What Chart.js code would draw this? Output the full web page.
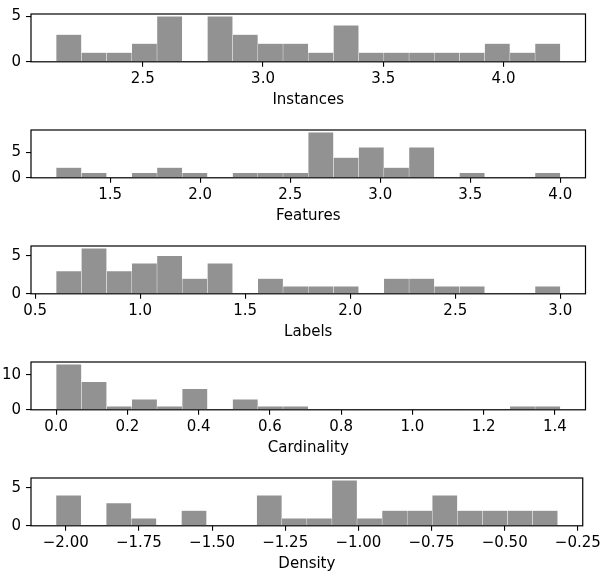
<!DOCTYPE html>
<html>
<head>
<meta charset="utf-8">
<script src="https://cdn.jsdelivr.net/npm/chart.js@4/dist/chart.umd.min.js"></script>
<style>
    html, body { margin: 0; padding: 0; background: #ffffff; }
    body { width: 604px; height: 576px; position: relative; overflow: hidden; }
    .panel { position: absolute; left: 0; width: 604px; height: 112px; }
</style>
</head>
<body>
<div class="panel" style="top: 0px;"><canvas id="chartInstances"></canvas></div>
<div class="panel" style="top: 116.1px;"><canvas id="chartFeatures"></canvas></div>
<div class="panel" style="top: 232.2px;"><canvas id="chartLabels"></canvas></div>
<div class="panel" style="top: 348.3px;"><canvas id="chartCardinality"></canvas></div>
<div class="panel" style="top: 464.4px;"><canvas id="chartDensity"></canvas></div>
<script>
// --- DATA (20 bins per histogram, counts) ---
const instancesRange = [2.14, 4.236];
const instancesCounts = [3, 1, 1, 2, 5, 0, 5, 3, 2, 2, 1, 4, 1, 1, 1, 1, 1, 2, 1, 2];
const instancesTicks = [2.5, 3.0, 3.5, 4.0];
const instancesTickLabels = ['2.5', '3.0', '3.5', '4.0'];

const featuresRange = [1.2, 4.0];
const featuresCounts = [2, 1, 0, 1, 2, 1, 0, 1, 1, 1, 9, 4, 6, 2, 6, 0, 1, 0, 0, 1];
const featuresTicks = [1.5, 2.0, 2.5, 3.0, 3.5, 4.0];
const featuresTickLabels = ['1.5', '2.0', '2.5', '3.0', '3.5', '4.0'];

const labelsRange = [0.6, 3.0];
const labelsCounts = [3, 6, 3, 4, 5, 2, 4, 0, 2, 1, 1, 1, 0, 2, 2, 1, 1, 0, 0, 1];
const labelsTicks = [0.5, 1.0, 1.5, 2.0, 2.5, 3.0];
const labelsTickLabels = ['0.5', '1.0', '1.5', '2.0', '2.5', '3.0'];

const cardinalityRange = [0.0, 1.415];
const cardinalityCounts = [13, 8, 1, 3, 1, 6, 0, 3, 1, 1, 0, 0, 0, 0, 0, 0, 0, 0, 1, 1];
const cardinalityTicks = [0.0, 0.2, 0.4, 0.6, 0.8, 1.0, 1.2, 1.4];
const cardinalityTickLabels = ['0.0', '0.2', '0.4', '0.6', '0.8', '1.0', '1.2', '1.4'];

const densityRange = [-2.033, -0.319];
const densityCounts = [4, 0, 3, 1, 0, 2, 0, 0, 4, 1, 1, 6, 1, 2, 2, 4, 2, 2, 2, 2];
const densityTicks = [-2.0, -1.75, -1.5, -1.25, -1.0, -0.75, -0.5, -0.25];
const densityTickLabels = ['\u22122.00', '\u22121.75', '\u22121.50', '\u22121.25', '\u22121.00', '\u22120.75', '\u22120.50', '\u22120.25'];

const countTicksSmall = [0, 5];
const countTicksLarge = [0, 10];

document.addEventListener('DOMContentLoaded', function () {
    const FONT = { family: "'DejaVu Sans', sans-serif", size: 15 };
    const BAR_COLOR = '#929292';
    const EDGE_COLOR = 'rgba(255, 255, 255, 0.5)';

    // box around the plot area (matplotlib spines)
    const spinesPlugin = {
        id: 'spines',
        afterDatasetsDraw(chart) {
            const { ctx, chartArea: a } = chart;
            ctx.save();
            ctx.strokeStyle = '#000000';
            ctx.lineWidth = 1.2;
            ctx.strokeRect(a.left, a.top, a.right - a.left, a.bottom - a.top);
            ctx.restore();
        }
    };

    function makeHistogram(canvasId, title, range, counts, xTicks, xTickLabels, yTicks) {
        const [lo, hi] = range;
        const nBins = counts.length;
        const width = (hi - lo) / nBins;
        const points = counts.map((c, i) => ({ x: lo + width * (i + 0.5), y: c }));
        const margin = (hi - lo) * 0.05;
        const yMax = Math.max(...counts) * 1.05;

        new Chart(document.getElementById(canvasId), {
            type: 'bar',
            data: {
                datasets: [{
                    data: points,
                    backgroundColor: BAR_COLOR,
                    borderColor: EDGE_COLOR,
                    borderWidth: c => (c.raw && c.raw.y > 0 ? 0.5 : 0),
                    barPercentage: 1,
                    categoryPercentage: 1
                }]
            },
            options: {
                responsive: true,
                maintainAspectRatio: false,
                animation: false,
                layout: { padding: { top: 4, right: 18.5, left: 0, bottom: 0 } },
                plugins: {
                    legend: { display: false },
                    tooltip: { enabled: false }
                },
                scales: {
                    x: {
                        type: 'linear',
                        min: lo - margin,
                        max: hi + margin,
                        offset: false,
                        afterBuildTicks: s => { s.ticks = xTicks.map(v => ({ value: v })); },
                        afterFit: s => { s.height = 50.2; },
                        grid: { offset: false, drawOnChartArea: false, drawTicks: true, tickLength: 5, color: '#000000', lineWidth: 1.1 },
                        border: { display: false },
                        ticks: {
                            autoSkip: false,
                            maxRotation: 0,
                            padding: 3,
                            color: '#000000',
                            font: FONT,
                            callback: (v, i) => xTickLabels[i]
                        },
                        title: {
                            display: true,
                            text: title,
                            color: '#000000',
                            font: FONT,
                            padding: { top: 0, bottom: 2.5 }
                        }
                    },
                    y: {
                        min: 0,
                        max: yMax,
                        afterBuildTicks: s => { s.ticks = yTicks.map(v => ({ value: v })); },
                        afterFit: s => { s.width = 31; },
                        grid: { drawOnChartArea: false, drawTicks: true, tickLength: 5, color: '#000000', lineWidth: 1.1 },
                        border: { display: false },
                        ticks: {
                            padding: 5,
                            color: '#000000',
                            font: FONT,
                            callback: v => String(v)
                        }
                    }
                }
            },
            plugins: [spinesPlugin]
        });
    }

    makeHistogram('chartInstances', 'Instances', instancesRange, instancesCounts, instancesTicks, instancesTickLabels, countTicksSmall);
    makeHistogram('chartFeatures', 'Features', featuresRange, featuresCounts, featuresTicks, featuresTickLabels, countTicksSmall);
    makeHistogram('chartLabels', 'Labels', labelsRange, labelsCounts, labelsTicks, labelsTickLabels, countTicksSmall);
    makeHistogram('chartCardinality', 'Cardinality', cardinalityRange, cardinalityCounts, cardinalityTicks, cardinalityTickLabels, countTicksLarge);
    makeHistogram('chartDensity', 'Density', densityRange, densityCounts, densityTicks, densityTickLabels, countTicksSmall);
});
</script>
</body>
</html>
